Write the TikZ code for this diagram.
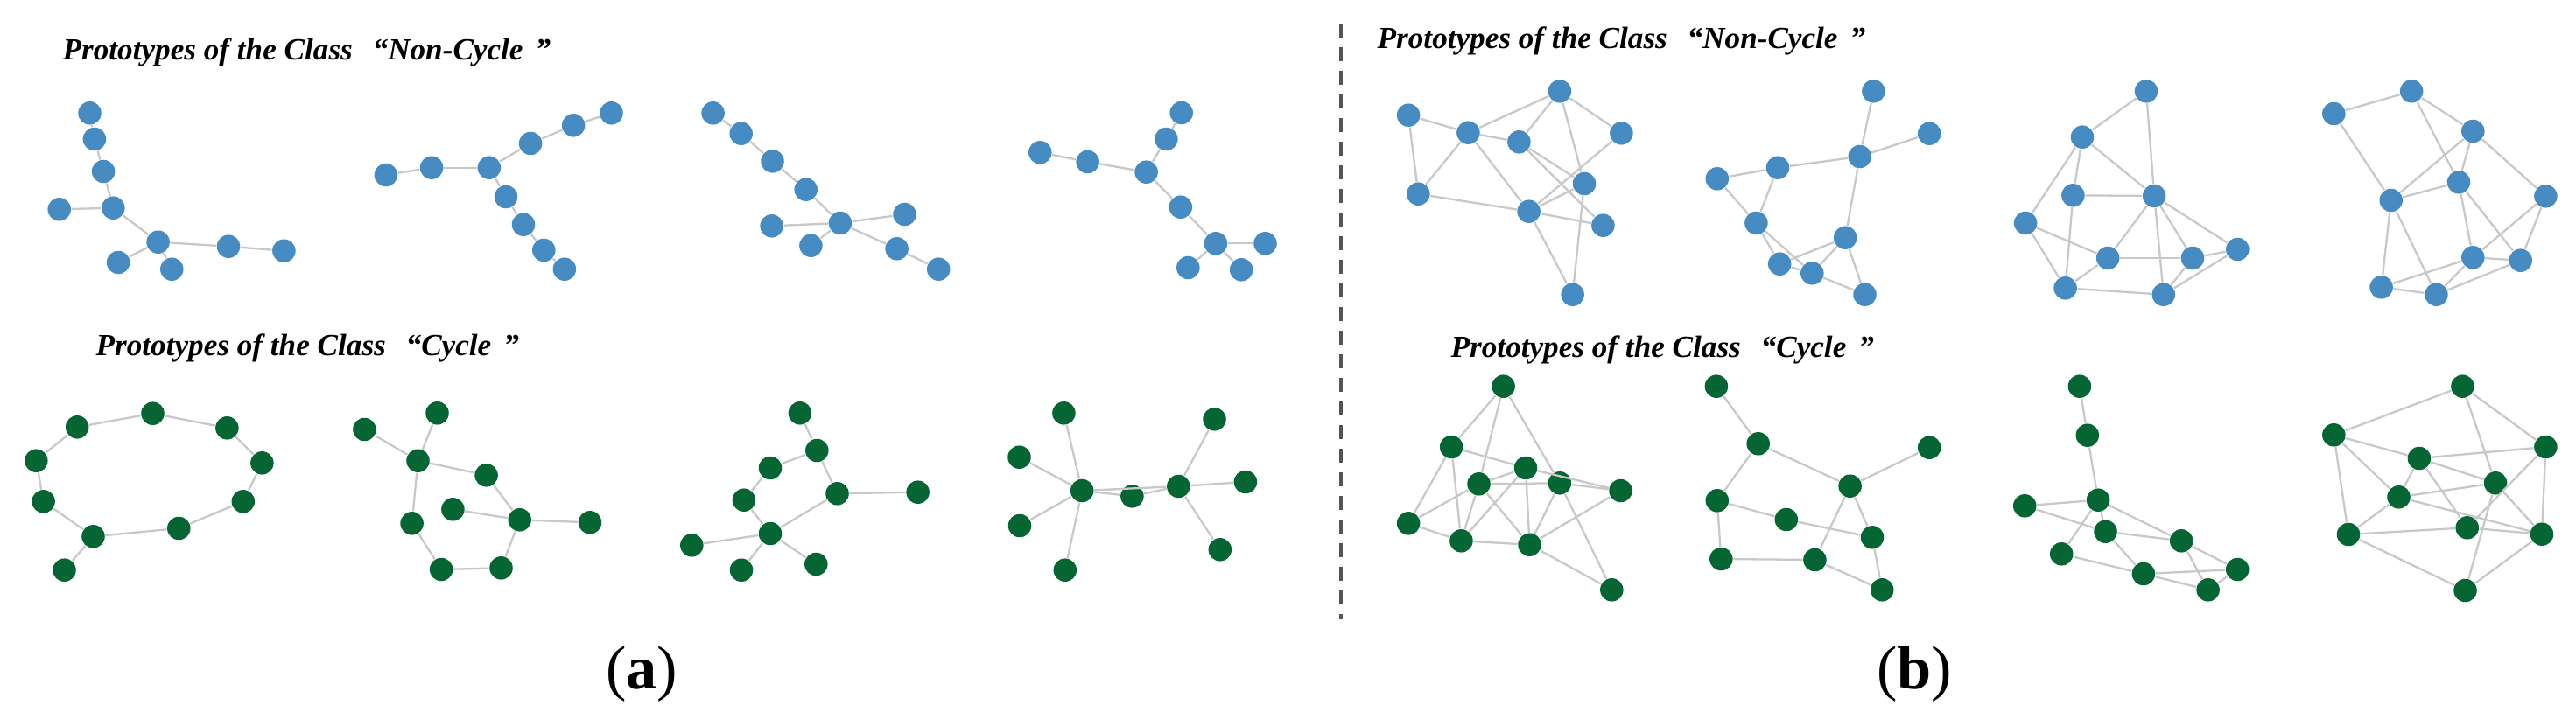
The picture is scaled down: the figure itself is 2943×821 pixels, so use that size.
\documentclass[tikz,border=0pt]{standalone}
\usepackage{fontspec}
\setmainfont{Liberation Serif}
\definecolor{nblue}{RGB}{70,140,195}
\definecolor{ngreen}{RGB}{5,102,52}
\definecolor{egray}{RGB}{200,200,200}
\definecolor{dgray}{RGB}{85,85,85}
\begin{document}
\begin{tikzpicture}[x=0.01cm,y=-0.01cm,
  bn/.style={circle,fill=nblue,inner sep=0pt,minimum size=0.265cm},
  gn/.style={circle,fill=ngreen,inner sep=0pt,minimum size=0.265cm},
  ed/.style={draw=egray,line width=0.65pt},
  lab/.style={anchor=west,inner sep=0pt,font=\fontsize{10}{12}\selectfont\bfseries\itshape},
  sub/.style={inner sep=0pt,font=\fontsize{20}{22}\selectfont}]
\useasboundingbox (0,0) rectangle (2943,821);
\fill[white] (0,0) rectangle (2943,821);

% ---------- labels ----------
\node[lab] (t1) at (71,60) {Prototypes of the Class\hspace{0.65em}“Non-Cycle\hspace{0.4em}”};
\node[lab] (t2) at (109,398) {Prototypes of the Class\hspace{0.65em}“Cycle\hspace{0.4em}”};
\node[lab] (t3) at (1573,47) {Prototypes of the Class\hspace{0.65em}“Non-Cycle\hspace{0.4em}”};
\node[lab] (t4) at (1657,400) {Prototypes of the Class\hspace{0.65em}“Cycle\hspace{0.4em}”};
\node[sub] (sa) at (733,771) {(\textbf{a})};
\node[sub] (sb) at (2187,771) {(\textbf{b})};

% ---------- separator ----------
\coordinate (s1) at (1532,27);
\coordinate (s2) at (1532,708);
\draw[dgray,line width=1.1pt,dash pattern=on 0.16cm off 0.11cm] (s1) -- (s2);

% ---------- (a) top: Non-Cycle ----------
\foreach \n/\x/\y in {1/102.5/129.3,2/107.9/159,3/118.1/196,4/67.7/239.3,5/129.3/237.7,6/180.6/276.7,7/135.1/300,8/196.3/307.7,9/261/281.7,10/324.4/286.7}
  \node[bn] (A\n) at (\x,\y) {};
\foreach \a/\b in {1/2,2/3,3/5,4/5,5/6,6/7,6/8,6/9,9/10}
  \draw[ed] (A\a) -- (A\b);

\foreach \n/\x/\y in {1/440.9/200,2/493.1/191.7,3/558.8/191.7,4/606.1/164,5/655.2/143.3,6/698.5/129.3,7/578/225,8/598/256.7,9/621.3/286,10/644.9/307.7}
  \node[bn] (B\n) at (\x,\y) {};
\foreach \a/\b in {1/2,2/3,3/4,4/5,5/6,3/7,7/8,8/9,9/10}
  \draw[ed] (B\a) -- (B\b);

\foreach \n/\x/\y in {1/814.6/129.3,2/846.7/152.7,3/882.5/184.3,4/920.7/216.7,5/959.9/255,6/881.6/258.3,7/926.4/280.7,8/1033.5/245,9/1024.6/284.3,10/1072.2/307.7}
  \node[bn] (C\n) at (\x,\y) {};
\foreach \a/\b in {1/2,2/3,3/4,4/5,5/6,5/7,5/8,5/9,9/10}
  \draw[ed] (C\a) -- (C\b);

\foreach \n/\x/\y in {1/1349.7/129,2/1332.3/159,3/1188.3/174.3,4/1242.6/185,5/1309.6/196.7,6/1348.8/236.7,7/1388.9/278.3,8/1445.5/278.3,9/1357.3/306,10/1418.2/308.3}
  \node[bn] (D\n) at (\x,\y) {};
\foreach \a/\b in {1/2,2/5,3/4,4/5,5/6,6/7,7/8,7/9,7/10}
  \draw[ed] (D\a) -- (D\b);

% ---------- (a) bottom: Cycle ----------
\foreach \n/\x/\y in {1/174.5/472.7,2/88.2/488.3,3/259.4/489.3,4/41.3/526.7,5/299.4/529.3,6/49.6/573.3,7/277.8/573.3,8/204.3/604,9/106.5/613.3,10/73.5/651.7}
  \node[gn] (E\n) at (\x,\y) {};
\foreach \a/\b in {1/2,1/3,2/4,4/6,6/9,9/8,8/7,7/5,5/3,9/10}
  \draw[ed] (E\a) -- (E\b);

\foreach \n/\x/\y in {1/499.5/472.3,2/416.4/491,3/477.5/526.7,4/555.6/543.3,5/517.4/582.3,6/593.7/594.3,7/674/597.3,8/470.6/598.3,9/504.1/651,10/572.5/649.3}
  \node[gn] (F\n) at (\x,\y) {};
\foreach \a/\b in {1/3,2/3,3/4,4/6,5/6,6/7,3/8,8/9,9/10,10/6}
  \draw[ed] (F\a) -- (F\b);

\foreach \n/\x/\y in {1/913.9/472.3,2/933.3/515,3/880/535,4/849.9/571.7,5/956.5/564.3,6/1048.6/562.7,7/880/610,8/790.3/623.3,9/847/651.7,10/932.3/645}
  \node[gn] (G\n) at (\x,\y) {};
\foreach \a/\b in {1/2,2/3,3/4,4/7,2/5,5/6,5/7,7/8,7/9,7/10}
  \draw[ed] (G\a) -- (G\b);

\foreach \n/\x/\y in {1/1215.4/472.3,2/1387.5/479.3,3/1164.5/522.7,4/1236.2/561,5/1293.4/567.3,6/1346.3/556,7/1422.9/551,8/1165/601,9/1393.8/628.3,10/1216.8/651.7}
  \node[gn] (H\n) at (\x,\y) {};
\foreach \a/\b in {1/4,3/4,4/8,4/10,4/5,5/6,4/6,6/2,6/7,6/9}
  \draw[ed] (H\a) -- (H\b);

% ---------- (b) top: Non-Cycle ----------
\foreach \n/\x/\y in {1/1781.9/104.3,2/1609.1/131.7,3/1677.4/151.7,4/1735.4/162.3,5/1852.4/152.3,6/1810/210,7/1620.3/221.7,8/1746.6/241.7,9/1831.4/257.7,10/1796.6/336.7}
  \node[bn] (I\n) at (\x,\y) {};
\foreach \a/\b in {2/3,3/4,2/7,3/7,3/1,3/8,1/4,1/5,1/6,4/6,4/9,5/8,6/8,7/8,8/9,8/10,6/10}
  \draw[ed] (I\a) -- (I\b);

\foreach \n/\x/\y in {1/2140.4/104.3,2/2204.2/152.7,3/2124.7/179,4/2031/191.7,5/1961.8/204.3,6/2006.4/255,7/2108.2/271.7,8/2033.2/301.7,9/2070.3/312.3,10/2130.5/336.7}
  \node[bn] (J\n) at (\x,\y) {};
\foreach \a/\b in {1/3,2/3,3/4,4/5,4/6,5/6,3/7,6/8,6/9,7/8,7/9,7/10,9/10,8/9}
  \draw[ed] (J\a) -- (J\b);

\foreach \n/\x/\y in {1/2452/104.3,2/2379/156.7,3/2368.4/223.3,4/2461.2/224,5/2314.1/255,6/2408.2/295,7/2505/295,8/2556.3/285,9/2359.6/329.3,10/2471.8/336.7}
  \node[bn] (K\n) at (\x,\y) {};
\foreach \a/\b in {1/2,1/4,2/4,2/3,2/5,3/4,3/9,5/6,5/9,4/6,4/7,4/8,4/10,6/7,6/9,9/10,7/8,7/10,8/10}
  \draw[ed] (K\a) -- (K\b);

\foreach \n/\x/\y in {1/2755.1/104.3,2/2666.3/130,3/2825.3/150,4/2809/208.3,5/2731.7/229,6/2908.4/224.3,7/2825.3/294.3,8/2879.7/297.7,9/2720.6/328.3,10/2783.4/336.7}
  \node[bn] (L\n) at (\x,\y) {};
\foreach \a/\b in {1/2,1/3,1/4,2/5,3/4,3/5,3/6,4/5,4/7,4/8,5/9,5/10,6/7,6/8,7/8,7/9,7/10,8/10,9/10}
  \draw[ed] (L\a) -- (L\b);

% ---------- (b) bottom: Cycle ----------
\foreach \n/\x/\y in {1/1717.6/441.7,2/1658.2/511,3/1743/535,4/1689.5/553.3,5/1781.9/552.3,6/1851.5/561,7/1609.1/598.3,8/1669.4/618.3,9/1747.5/622.7,10/1841.3/674.3}
  \node[gn] (M\n) at (\x,\y) {};
\foreach \a/\b in {1/2,1/4,1/5,2/3,3/6,2/7,2/8,3/4,3/8,3/9,4/5,4/7,4/8,4/9,5/6,5/9,5/10,6/9,7/8,8/9,9/10}
  \draw[ed] (M\a) -- (M\b);

\foreach \n/\x/\y in {1/1960.9/441.7,2/2008.7/507.3,3/2204.2/511.7,4/2113.6/555.7,5/1961.8/572.3,6/2040.8/594,7/2139/614.3,8/1966.3/639,9/2073.4/640,10/2150.2/674.3}
  \node[gn] (N\n) at (\x,\y) {};
\foreach \a/\b in {1/2,2/4,2/5,3/4,4/7,4/9,5/6,6/7,5/8,8/9,9/10,7/10}
  \draw[ed] (N\a) -- (N\b);

\foreach \n/\x/\y in {1/2375.9/441.7,2/2384.8/497.7,3/2397.1/571.7,4/2313.2/578.3,5/2405.5/607.7,6/2492.2/618.3,7/2355.2/633.3,8/2448.9/656,9/2556.2/651,10/2522.6/674.3}
  \node[gn] (O\n) at (\x,\y) {};
\foreach \a/\b in {1/2,2/3,3/4,4/5,3/5,3/6,3/7,5/6,5/8,7/8,8/9,8/10,6/10,6/9,9/10}
  \draw[ed] (O\a) -- (O\b);

\foreach \n/\x/\y in {1/2813.4/441.7,2/2666.3/497.3,3/2908.4/511,4/2763.9/524,5/2851/552.3,6/2740.5/568.3,7/2683/611,8/2818.7/603.3,9/2904/610.7,10/2816.5/675}
  \node[gn] (P\n) at (\x,\y) {};
\foreach \a/\b in {1/2,1/3,1/5,2/4,2/6,2/7,3/4,3/8,3/9,4/5,4/6,4/8,5/6,5/9,5/10,6/7,6/9,7/8,7/10,8/9,9/10}
  \draw[ed] (P\a) -- (P\b);
\end{tikzpicture}
\end{document}
